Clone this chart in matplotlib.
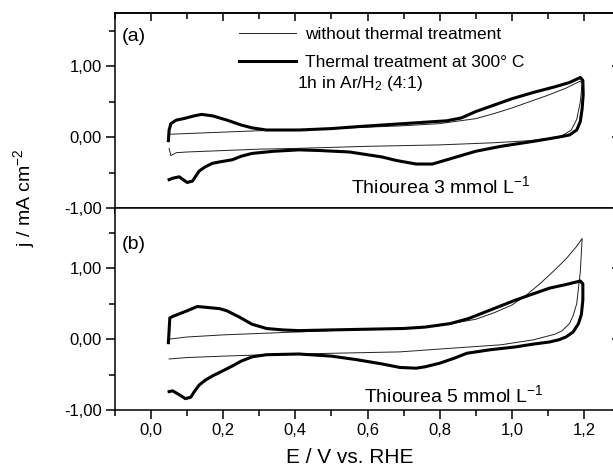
import matplotlib.pyplot as plt
from matplotlib.ticker import MultipleLocator, FuncFormatter

plt.rcParams['font.family'] = ['Liberation Sans', 'DejaVu Sans']
plt.rcParams['mathtext.fontset'] = 'custom'
plt.rcParams['mathtext.rm'] = 'Liberation Sans'
plt.rcParams['mathtext.it'] = 'Liberation Sans:italic'
plt.rcParams['mathtext.bf'] = 'Liberation Sans:bold'

# ==============================
# DATA
# ==============================

# (a) thiourea 3 mmol/L, with thermal treatment (thick)
E_a_treated = [0.048, 0.050, 0.055, 0.07, 0.09, 0.12, 0.14, 0.17, 0.21, 0.25, 0.28, 0.32,
               0.36, 0.41, 0.50, 0.58, 0.64, 0.70, 0.76, 0.82, 0.86, 0.90, 0.95, 1.00,
               1.06, 1.12, 1.16, 1.19,
               1.197, 1.198, 1.195, 1.19, 1.18, 1.16, 1.13,
               1.06, 0.97, 0.90, 0.84, 0.78, 0.735, 0.68, 0.64, 0.55, 0.47, 0.41, 0.34,
               0.28, 0.25, 0.225, 0.19, 0.17, 0.15, 0.133, 0.115, 0.10, 0.078, 0.06, 0.05]
j_a_treated = [-0.05, 0.10, 0.19, 0.24, 0.26, 0.30, 0.32, 0.30, 0.24, 0.17, 0.13, 0.10,
               0.10, 0.10, 0.12, 0.15, 0.17, 0.19, 0.21, 0.23, 0.27, 0.36, 0.45, 0.54,
               0.63, 0.71, 0.77, 0.84,
               0.80, 0.60, 0.40, 0.22, 0.10, 0.03, 0.00,
               -0.06, -0.13, -0.20, -0.29, -0.38, -0.38, -0.33, -0.28, -0.21, -0.19, -0.18, -0.20,
               -0.23, -0.27, -0.32, -0.35, -0.37, -0.42, -0.48, -0.62, -0.64, -0.56, -0.58, -0.60]

# (a) thiourea 3 mmol/L, without thermal treatment (thin)
E_a_plain = [0.05, 0.10, 0.20, 0.30, 0.40, 0.50, 0.60, 0.70, 0.80, 0.90, 0.95, 1.00,
             1.05, 1.10, 1.15, 1.19,
             1.195, 1.19, 1.18, 1.165, 1.14, 1.12,
             1.05, 0.95, 0.80, 0.60, 0.40, 0.30, 0.20, 0.10, 0.07, 0.055, 0.05]
j_a_plain = [0.04, 0.05, 0.07, 0.09, 0.10, 0.12, 0.14, 0.16, 0.19, 0.26, 0.33, 0.41,
             0.50, 0.59, 0.69, 0.79,
             0.75, 0.50, 0.25, 0.10, 0.02, -0.01,
             -0.05, -0.08, -0.11, -0.13, -0.16, -0.17, -0.19, -0.21, -0.22, -0.26, -0.16]

# (b) thiourea 5 mmol/L, with thermal treatment (thick)
E_b_treated = [0.048, 0.052, 0.06, 0.08, 0.10, 0.128, 0.15, 0.17, 0.19, 0.21, 0.245, 0.28,
               0.32, 0.365, 0.41, 0.50, 0.60, 0.70, 0.76, 0.83, 0.88, 0.92, 0.96, 1.01,
               1.06, 1.105, 1.15, 1.19,
               1.197, 1.197, 1.193, 1.185, 1.17, 1.15, 1.13,
               1.105, 1.06, 1.01, 0.94, 0.875, 0.84, 0.80, 0.76, 0.735, 0.69, 0.64, 0.57,
               0.50, 0.41, 0.32, 0.28, 0.25, 0.225, 0.19, 0.17, 0.15, 0.133, 0.12, 0.11,
               0.095, 0.08, 0.06, 0.05]
j_b_treated = [-0.05, 0.30, 0.32, 0.36, 0.40, 0.46, 0.45, 0.44, 0.43, 0.40, 0.31, 0.21,
               0.15, 0.13, 0.12, 0.13, 0.14, 0.15, 0.17, 0.22, 0.29, 0.37, 0.45, 0.55,
               0.64, 0.72, 0.77, 0.82,
               0.78, 0.55, 0.35, 0.22, 0.10, 0.03, -0.01,
               -0.04, -0.07, -0.11, -0.15, -0.20, -0.27, -0.34, -0.39, -0.41, -0.40, -0.35, -0.29,
               -0.24, -0.21, -0.22, -0.25, -0.31, -0.38, -0.47, -0.52, -0.58, -0.65, -0.74, -0.82,
               -0.84, -0.79, -0.73, -0.74]

# (b) thiourea 5 mmol/L, without thermal treatment (thin)
E_b_plain = [0.05, 0.10, 0.20, 0.30, 0.40, 0.50, 0.60, 0.70, 0.80, 0.90, 0.95, 1.00,
             1.04, 1.08, 1.12, 1.15, 1.18, 1.195,
             1.19, 1.18, 1.17, 1.16, 1.14, 1.12,
             1.06, 0.97, 0.80, 0.69, 0.50, 0.40, 0.32, 0.20, 0.10, 0.05]
j_b_plain = [0.00, 0.03, 0.06, 0.08, 0.10, 0.12, 0.14, 0.15, 0.19, 0.28, 0.37, 0.48,
             0.62, 0.79, 0.98, 1.13, 1.31, 1.42,
             0.95, 0.50, 0.33, 0.22, 0.12, 0.07,
             -0.01, -0.08, -0.14, -0.18, -0.20, -0.21, -0.22, -0.24, -0.26, -0.28]

labels = ["without thermal treatment", "Thermal treatment at 300° C"]
panel_tags = ["(a)", "(b)"]
conc_labels = ["Thiourea 3 mmol L$^{-1}$", "Thiourea 5 mmol L$^{-1}$"]

# ==============================
# FIGURE / AXES
# ==============================

W, H = 613, 468
fig = plt.figure(figsize=(W / 100, H / 100), dpi=100)
ax1 = fig.add_axes([115 / W, 1 - 208 / H, 505 / W, 195 / H])
ax2 = fig.add_axes([115 / W, 1 - 410 / H, 505 / W, 202 / H])

yfmt = FuncFormatter(lambda v, p: f"{round(v, 2):.2f}".replace('.', ','))
xfmt = FuncFormatter(lambda v, p: f"{round(v, 1):.1f}".replace('.', ','))


def style(ax, ylim, top_ticks):
    ax.set_xlim(-0.1, 1.3)
    ax.set_ylim(*ylim)
    ax.xaxis.set_major_locator(MultipleLocator(0.2))
    ax.xaxis.set_minor_locator(MultipleLocator(0.1))
    ax.yaxis.set_major_locator(MultipleLocator(1.0))
    ax.yaxis.set_minor_locator(MultipleLocator(0.5))
    ax.yaxis.set_major_formatter(yfmt)
    ax.xaxis.set_major_formatter(xfmt)
    ax.tick_params(which='both', direction='out', width=1.1, labelsize=12,
                   top=False, right=False)
    ax.tick_params(which='major', length=6.5, pad=3)
    ax.tick_params(which='minor', length=4)
    for s in ax.spines.values():
        s.set_linewidth(1.1)
    # right side: inward major ticks only
    sec = ax.secondary_yaxis('right')
    sec.yaxis.set_major_locator(MultipleLocator(1.0))
    sec.tick_params(direction='in', length=6, width=1.1, labelright=False)
    sec.spines['right'].set_linewidth(1.1)
    if top_ticks:
        secx = ax.secondary_xaxis('top')
        secx.xaxis.set_major_locator(MultipleLocator(0.2))
        secx.xaxis.set_minor_locator(MultipleLocator(0.1))
        secx.tick_params(which='both', direction='in', width=1.1, labeltop=False)
        secx.tick_params(which='major', length=6)
        secx.tick_params(which='minor', length=4)
        secx.spines['top'].set_linewidth(1.1)


style(ax1, (-1.0, 1.75), True)
style(ax2, (-1.0, 1.85), False)
ax1.tick_params(labelbottom=False)

# ==============================
# PLOT CURVES
# ==============================

l1, = ax1.plot(E_a_plain, j_a_plain, color='#222222', lw=0.7)
l2, = ax1.plot(E_a_treated, j_a_treated, color='black', lw=2.2)
ax2.plot(E_b_plain, j_b_plain, color='#222222', lw=0.7)
ax2.plot(E_b_treated, j_b_treated, color='black', lw=2.2)

ax1.legend([l1, l2], labels, loc='upper left', bbox_to_anchor=(0.245, 0.93),
           frameon=False, fontsize=12.5, handlelength=3.3, handletextpad=0.5,
           labelspacing=0.75, borderpad=0, borderaxespad=0)
ax1.text(0.36, 0.64, "1h in Ar/H$_2$ (4:1)", transform=ax1.transAxes,
         fontsize=12.5, ha='left', va='center')

for ax, tag, conc, ty, cx, cy in [(ax1, panel_tags[0], conc_labels[0], 0.877, 0.645, 0.11),
                                  (ax2, panel_tags[1], conc_labels[1], 0.817, 0.67, 0.075)]:
    ax.text(0.014, ty, tag, transform=ax.transAxes, fontsize=14, ha='left', va='center')
    ax.text(cx, cy, conc, transform=ax.transAxes, fontsize=14, ha='center', va='center')

ax2.set_xlabel("E / V vs. RHE", fontsize=15)
ax2.xaxis.set_label_coords(0.465, -0.19)
fig.text(24 / W, 1 - 198 / H, "j / mA cm$^{-2}$", rotation=90, fontsize=14,
         ha='center', va='center')

plt.savefig("out.png", dpi=100)
